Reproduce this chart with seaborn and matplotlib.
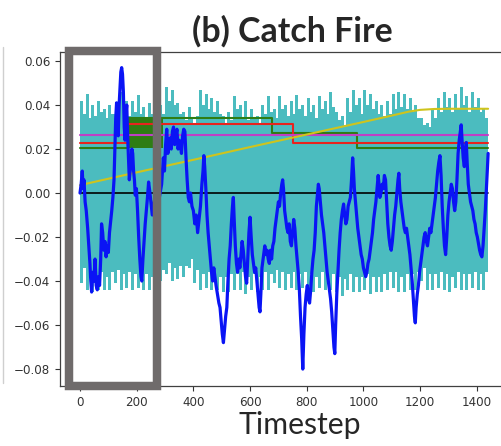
import numpy as np
import matplotlib
matplotlib.use("Agg")
import matplotlib.pyplot as plt
from matplotlib.patches import Rectangle
from matplotlib.lines import Line2D
import seaborn as sns
import pandas as pd

# ---------------- data ----------------
env_t = list(range(0, 1441, 10))
env_upper = [0.042, 0.036, 0.045, 0.034, 0.040, 0.035, 0.042, 0.037, 0.038, 0.034,
             0.040, 0.036, 0.036, 0.032, 0.046, 0.038, 0.042, 0.035, 0.042, 0.037,
             0.0445, 0.036, 0.039, 0.034, 0.041, 0.036, 0.040, 0.035, 0.040, 0.036,
             0.048, 0.042, 0.047, 0.040, 0.041, 0.036, 0.037, 0.033, 0.039, 0.034,
             0.032, 0.035, 0.047, 0.040, 0.045, 0.038, 0.043, 0.037, 0.042, 0.036,
             0.035, 0.032, 0.037, 0.033, 0.044, 0.038, 0.040, 0.034, 0.042, 0.033,
             0.038, 0.034, 0.035, 0.032, 0.040, 0.036, 0.044, 0.037, 0.038, 0.034,
             0.044, 0.038, 0.040, 0.035, 0.042, 0.036, 0.0445, 0.038, 0.040, 0.035,
             0.043, 0.037, 0.040, 0.034, 0.044, 0.038, 0.042, 0.036, 0.046, 0.039,
             0.037, 0.033, 0.035, 0.031, 0.043, 0.037, 0.047, 0.040, 0.043, 0.036,
             0.047, 0.040, 0.045, 0.038, 0.042, 0.036, 0.040, 0.035, 0.042, 0.036,
             0.045, 0.038, 0.046, 0.039, 0.045, 0.038, 0.043, 0.037, 0.040, 0.034,
             0.034, 0.031, 0.032, 0.030, 0.038, 0.034, 0.043, 0.037, 0.046, 0.039,
             0.043, 0.037, 0.045, 0.038, 0.048, 0.040, 0.044, 0.037, 0.046, 0.039,
             0.043, 0.037, 0.038, 0.034, 0.034]
env_lower = [-0.041, -0.034, -0.044, -0.036, -0.045, -0.037, -0.044, -0.036, -0.044, -0.038,
             -0.044, -0.036, -0.041, -0.035, -0.044, -0.037, -0.043, -0.036, -0.044, -0.037,
             -0.043, -0.036, -0.044, -0.037, -0.044, -0.038, -0.042, -0.036, -0.040, -0.035,
             -0.037, -0.032, -0.040, -0.034, -0.039, -0.033, -0.038, -0.033, -0.034, -0.030,
             -0.041, -0.035, -0.044, -0.037, -0.043, -0.036, -0.044, -0.037, -0.044, -0.038,
             -0.045, -0.038, -0.045, -0.037, -0.044, -0.037, -0.044, -0.036, -0.046, -0.038,
             -0.044, -0.037, -0.045, -0.038, -0.044, -0.036, -0.044, -0.037, -0.041, -0.035,
             -0.043, -0.036, -0.044, -0.037, -0.043, -0.036, -0.044, -0.037, -0.043, -0.036,
             -0.044, -0.037, -0.045, -0.038, -0.043, -0.036, -0.044, -0.037, -0.044, -0.037,
             -0.045, -0.038, -0.047, -0.039, -0.044, -0.037, -0.045, -0.038, -0.045, -0.038,
             -0.044, -0.037, -0.046, -0.038, -0.045, -0.038, -0.045, -0.037, -0.044, -0.036,
             -0.043, -0.036, -0.045, -0.038, -0.045, -0.037, -0.044, -0.037, -0.044, -0.036,
             -0.040, -0.034, -0.044, -0.037, -0.044, -0.037, -0.043, -0.036, -0.044, -0.037,
             -0.045, -0.038, -0.043, -0.036, -0.044, -0.037, -0.044, -0.037, -0.043, -0.036,
             -0.044, -0.037, -0.044, -0.036, -0.036]

blue_t = [0, 4, 8, 11, 14, 18, 22, 27, 31, 35, 38, 41, 45, 49, 53, 57, 61, 65, 69, 73,
          76, 80, 84, 88, 92, 96, 100, 104, 108, 112, 116, 120, 123, 126, 129, 132, 135, 138, 141, 144,
          147, 150, 153, 156, 159, 162, 165, 168, 171, 174, 177, 180, 183, 186, 189, 192, 195, 199, 203, 207,
          211, 215, 218, 222, 226, 230, 234, 238, 242, 246, 250, 255, 262, 270, 280, 288, 294, 298, 302, 306,
          310, 314, 318, 322, 326, 330, 334, 338, 342, 346, 350, 354, 358, 362, 366, 370, 374, 378, 382, 386,
          390, 395, 400, 405, 410, 415, 420, 425, 430, 434, 437, 440, 444, 448, 452, 456, 460, 464, 468, 472,
          476, 480, 485, 490, 494, 498, 502, 506, 510, 514, 518, 522, 526, 530, 534, 538, 541, 544, 548, 552,
          556, 560, 564, 568, 572, 576, 580, 584, 588, 592, 596, 600, 604, 608, 612, 616, 620, 624, 628, 632,
          635, 638, 642, 647, 652, 656, 660, 664, 668, 672, 676, 680, 684, 688, 692, 696, 700, 704, 708, 712,
          715, 718, 722, 726, 730, 734, 738, 742, 746, 750, 754, 758, 762, 766, 770, 774, 778, 782, 786, 790,
          794, 798, 802, 806, 810, 814, 818, 822, 826, 830, 834, 838, 841, 844, 848, 852, 856, 860, 864, 868,
          872, 876, 880, 884, 888, 892, 896, 899, 902, 906, 910, 914, 918, 922, 926, 930, 934, 938, 942, 946,
          950, 954, 958, 962, 965, 968, 972, 976, 980, 984, 988, 992, 996, 1000, 1004, 1008, 1012, 1016, 1020, 1024,
          1028, 1032, 1036, 1040, 1044, 1048, 1052, 1055, 1058, 1062, 1066, 1070, 1074, 1078, 1082, 1086, 1090, 1094, 1098, 1102,
          1106, 1110, 1114, 1118, 1122, 1125, 1128, 1132, 1136, 1140, 1144, 1148, 1152, 1156, 1160, 1164, 1168, 1172, 1176, 1180,
          1183, 1186, 1190, 1194, 1198, 1202, 1206, 1210, 1214, 1218, 1222, 1226, 1230, 1234, 1238, 1242, 1246, 1250, 1254, 1258,
          1262, 1266, 1270, 1274, 1278, 1282, 1286, 1290, 1294, 1298, 1302, 1306, 1310, 1314, 1318, 1322, 1326, 1330, 1334, 1338,
          1342, 1345, 1348, 1352, 1356, 1360, 1363, 1366, 1370, 1374, 1378, 1382, 1386, 1390, 1394, 1398, 1402, 1406, 1410, 1414,
          1418, 1422, 1426, 1430, 1434, 1437, 1440]
blue_v = [0.000, 0.004, 0.010, 0.002, 0.006, -0.004, -0.008, -0.016, -0.024, -0.032, -0.040, -0.045, -0.036, -0.040, -0.030, -0.042, -0.044, -0.038, -0.042, -0.030,
          -0.014, -0.018, -0.026, -0.022, -0.029, -0.024, -0.027, -0.018, -0.013, -0.008, -0.002, 0.006, 0.020, 0.034, 0.041, 0.030, 0.026, 0.040, 0.048, 0.055,
          0.057, 0.054, 0.046, 0.030, 0.024, 0.036, 0.040, 0.026, 0.016, 0.006, 0.010, 0.014, 0.020, 0.018, 0.010, 0.006, -0.001, 0.002, -0.008, -0.020,
          -0.030, -0.038, -0.040, -0.030, -0.022, -0.014, -0.008, -0.002, 0.005, 0.001, -0.004, -0.010, -0.004, 0.002, -0.002, 0.004, 0.016, 0.010, 0.022, 0.029,
          0.018, 0.024, 0.025, 0.020, 0.028, 0.030, 0.022, 0.026, 0.029, 0.020, 0.024, 0.022, 0.018, 0.026, 0.029, 0.028, 0.016, 0.006, -0.002, -0.004,
          0.000, -0.006, -0.008, -0.014, -0.010, -0.018, -0.012, -0.006, 0.004, 0.010, 0.017, 0.012, 0.002, -0.010, -0.018, -0.024, -0.030, -0.036, -0.040, -0.034,
          -0.038, -0.042, -0.046, -0.050, -0.052, -0.058, -0.064, -0.068, -0.062, -0.056, -0.052, -0.040, -0.030, -0.024, -0.014, -0.006, -0.002, -0.012, -0.024, -0.032,
          -0.036, -0.030, -0.034, -0.028, -0.022, -0.026, -0.032, -0.038, -0.041, -0.030, -0.018, -0.011, -0.020, -0.028, -0.032, -0.036, -0.034, -0.040, -0.046, -0.052,
          -0.054, -0.046, -0.034, -0.029, -0.024, -0.028, -0.026, -0.030, -0.032, -0.026, -0.030, -0.024, -0.022, -0.016, -0.012, -0.008, -0.004, -0.006, 0.000, 0.004,
          0.006, 0.002, -0.008, -0.012, -0.016, -0.018, -0.014, -0.022, -0.024, -0.018, -0.012, -0.016, -0.024, -0.030, -0.036, -0.044, -0.056, -0.066, -0.080, -0.064,
          -0.052, -0.046, -0.042, -0.048, -0.050, -0.044, -0.036, -0.030, -0.026, -0.018, -0.006, 0.000, 0.004, 0.002, -0.004, -0.010, -0.014, -0.018, -0.024, -0.030,
          -0.036, -0.040, -0.044, -0.048, -0.054, -0.062, -0.070, -0.073, -0.060, -0.046, -0.036, -0.026, -0.018, -0.012, -0.008, -0.005, -0.010, -0.014, -0.012, -0.006,
          -0.004, -0.002, 0.006, 0.016, 0.010, 0.002, -0.004, -0.010, -0.016, -0.020, -0.024, -0.028, -0.030, -0.034, -0.036, -0.038, -0.036, -0.032, -0.030, -0.026,
          -0.022, -0.018, -0.012, -0.008, -0.004, 0.002, 0.008, 0.004, -0.002, 0.000, 0.004, 0.002, 0.008, 0.006, -0.004, -0.014, -0.020, -0.024, -0.026, -0.022,
          -0.016, -0.010, -0.006, 0.000, 0.006, 0.009, 0.002, -0.004, -0.008, -0.012, -0.016, -0.018, -0.016, -0.020, -0.024, -0.028, -0.034, -0.040, -0.048, -0.056,
          -0.059, -0.052, -0.046, -0.042, -0.036, -0.032, -0.028, -0.024, -0.020, -0.018, -0.022, -0.024, -0.020, -0.016, -0.018, -0.014, -0.010, -0.006, -0.002, 0.004,
          0.010, 0.014, 0.017, 0.008, -0.006, -0.016, -0.024, -0.028, -0.020, -0.010, -0.004, 0.000, 0.004, 0.002, -0.004, -0.008, -0.004, 0.006, 0.018, 0.024,
          0.028, 0.031, 0.024, 0.016, 0.012, 0.020, 0.023, 0.014, 0.004, 0.000, -0.004, -0.006, -0.008, -0.012, -0.014, -0.018, -0.020, -0.023, -0.026, -0.028,
          -0.029, -0.024, -0.016, -0.008, 0.002, 0.010, 0.018]

yellow_t = [0, 200, 400, 600, 800, 1000, 1100, 1160, 1200, 1250, 1300, 1440]
yellow_v = [0.0036, 0.0094, 0.0151, 0.0209, 0.0266, 0.0323, 0.0352, 0.0370, 0.0378, 0.0382, 0.0383, 0.0383]

red_t = [0, 170, 753, 1440]
red_v = [0.0226, 0.0314, 0.0226, 0.0226]

green_t = [0, 170, 676, 976, 1440]
green_v = [0.0203, 0.0339, 0.0271, 0.0203, 0.0203]
green_block = (170, 294, 0.0203, 0.0339)

purple_t = [0, 1440]
purple_v = [0.0264, 0.0264]

black_t = [0, 1440]
black_v = [0.0, 0.0]

xticks = [0, 200, 400, 600, 800, 1000, 1200, 1400]
yticks = [-0.08, -0.06, -0.04, -0.02, 0.00, 0.02, 0.04, 0.06]

title_text = "(b) Catch Fire"
xlabel_text = "Timestep"

# ---------------- plot ----------------
sns.set_style("ticks")
W, H = 501, 446
fig = plt.figure(figsize=(W / 100, H / 100), dpi=100)
ax = fig.add_axes([60 / W, (H - 386) / H, (504 - 60) / W, (386 - 52) / H])

cyan = "#4bbcbf"
ax.fill_between(env_t, env_lower, env_upper, step="post", color=cyan, lw=0, zorder=1)

x0, x1, lo, hi = green_block
ax.fill_between([x0, x1], [lo, lo], [hi, hi], color="#2e7d14", lw=0, zorder=2)

df_red = pd.DataFrame({"t": red_t, "v": red_v})
df_green = pd.DataFrame({"t": green_t, "v": green_v})
sns.lineplot(data=df_green, x="t", y="v", ax=ax, color="#2e7d14", lw=1.5,
             drawstyle="steps-post", zorder=3, estimator=None)
sns.lineplot(data=df_red, x="t", y="v", ax=ax, color="#e8231e", lw=1.5,
             drawstyle="steps-post", zorder=3, estimator=None)
sns.lineplot(x=purple_t, y=purple_v, ax=ax, color="#bf3fc6", lw=1.5, zorder=3, estimator=None)
sns.lineplot(x=yellow_t, y=yellow_v, ax=ax, color="#cfc41c", lw=1.5, zorder=3, estimator=None)
sns.lineplot(x=black_t, y=black_v, ax=ax, color="black", lw=1.2, zorder=3, estimator=None)
sns.lineplot(x=blue_t, y=blue_v, ax=ax, color="#0a14f5", lw=2.3, zorder=4,
             estimator=None, sort=False)

ax.set_xlim(-70.6, 1496)
ax.set_ylim(-0.0877, 0.0641)
ax.set_xticks(xticks)
ax.set_yticks(yticks)
ax.set_yticklabels([f"{v:.2f}".replace("-", "\u2212") for v in yticks])
ax.tick_params(labelsize=8.6, colors=".2", length=3.5, width=0.8)
ax.set_xlabel("")
ax.set_ylabel("")
for s in ax.spines.values():
    s.set_color(".25")
    s.set_linewidth(0.9)

# title and x label, fitted to the reference widths
t = fig.text(292.5 / W, 1 - 31 / H, title_text, ha="center", va="center",
             fontsize=20, fontweight="bold", family=["Lato", "DejaVu Sans"])
xl = fig.text(300 / W, 1 - 425 / H, xlabel_text, ha="center", va="center",
              fontsize=16, family=["Lato", "DejaVu Sans"])
fig.canvas.draw()
r = fig.canvas.get_renderer()
for txt, target in ((t, 201.0), (xl, 123.0)):
    w = txt.get_window_extent(renderer=r).width
    txt.set_fontsize(txt.get_fontsize() * target / w)

# highlight frame
fx0, fx1 = 69 / W, 156.5 / W
fy0, fy1 = (H - 386) / H, (H - 50.5) / H
fig.patches.append(Rectangle((fx0, fy0), fx1 - fx0, fy1 - fy0, transform=fig.transFigure,
                             fill=False, ec="#6f6b6b", lw=6.1, zorder=10))
# edge of neighbouring panel
fig.lines.append(Line2D([2.5 / W, 2.5 / W], [(H - 383) / H, (H - 47) / H],
                        transform=fig.transFigure, color="#cfcfcf", lw=1.0))

fig.savefig("out.png", dpi=100)
